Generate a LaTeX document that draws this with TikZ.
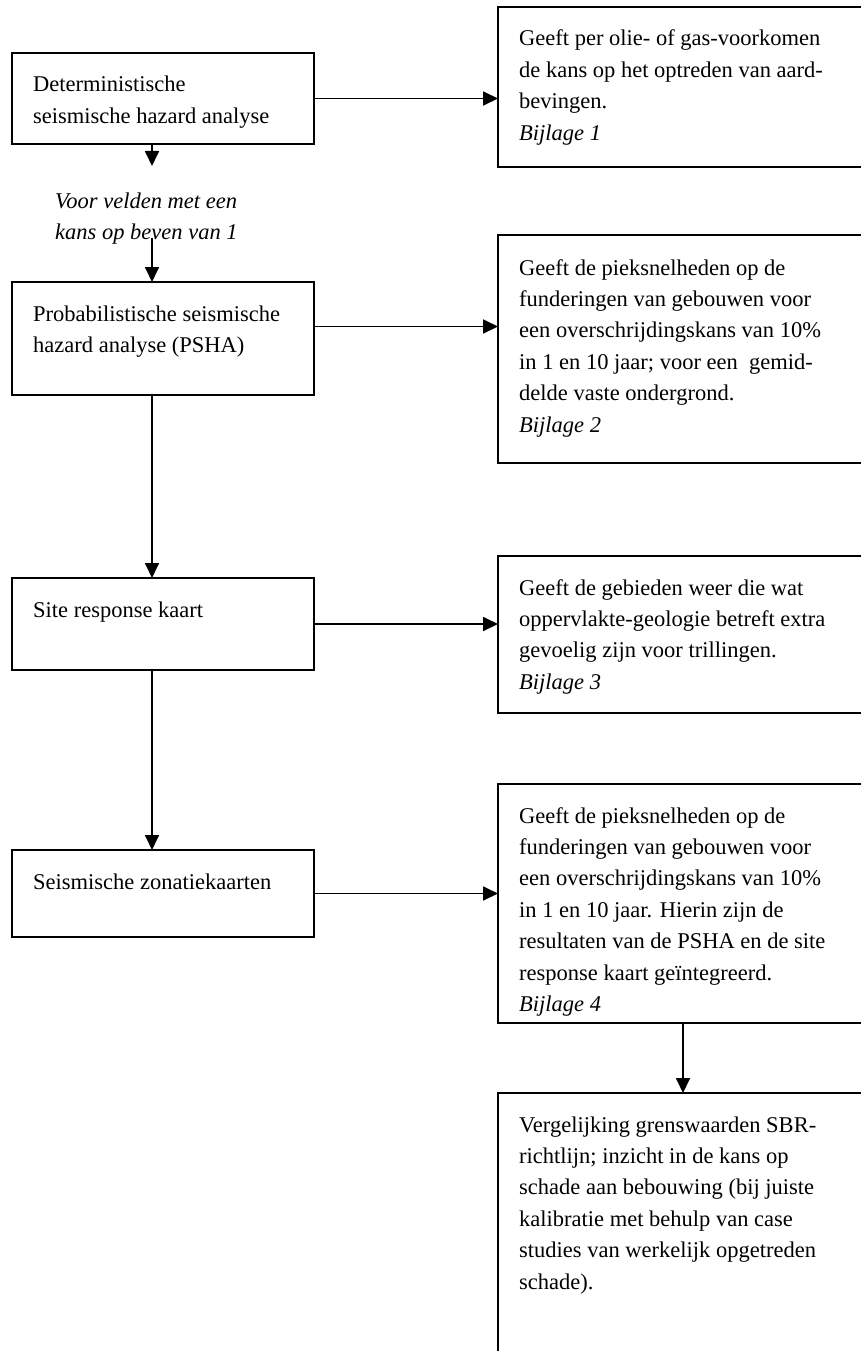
\documentclass[tikz,border=0pt]{standalone}
\usepackage{fontspec}
\setmainfont{Liberation Serif}
\usetikzlibrary{arrows.meta}
\newcommand{\blk}[1]{\parbox[t]{340pt}{\raggedright #1}}
\begin{document}
\begin{tikzpicture}[x=1pt,y=-1pt,
  box/.style={draw, line width=1.8pt, rectangle, inner sep=0pt, outer sep=0pt, anchor=north west},
  txt/.style={anchor=base west, inner sep=0pt, font=\fontsize{22.5}{31.4}\selectfont},
  lbl/.style={anchor=base west, inner sep=0pt, font=\fontsize{22.5}{31.3}\selectfont\itshape},
  arr/.style={line width=1.8pt, -{Triangle[length=15pt,width=14pt]}}]
\useasboundingbox (0,0) rectangle (861,1351);
\clip (0,0) rectangle (861,1351);

% left boxes
\node[box, minimum width=302pt, minimum height=91pt]  (L1) at (12,53)  {};
\node[box, minimum width=302pt, minimum height=113pt] (L2) at (12,282) {};
\node[box, minimum width=302pt, minimum height=92pt]  (L3) at (12,578) {};
\node[box, minimum width=302pt, minimum height=87pt]  (L4) at (12,850) {};

% right boxes (run past the right edge)
\node[box, minimum width=420pt, minimum height=160pt] (R1) at (498,7)    {};
\node[box, minimum width=420pt, minimum height=228pt] (R2) at (498,235)  {};
\node[box, minimum width=420pt, minimum height=157pt] (R3) at (498,556)  {};
\node[box, minimum width=420pt, minimum height=239pt] (R4) at (498,784)  {};
\node[box, minimum width=420pt, minimum height=400pt] (R5) at (498,1093) {};

% left texts
\node[txt] (tL1) at (33,92)  {\blk{Deterministische\\seismische hazard analyse}};
\node[txt] (tL2) at (33,321) {\blk{Probabilistische seismische\\hazard analyse (PSHA)}};
\node[txt] (tL3) at (33,617) {\blk{Site response kaart}};
\node[txt] (tL4) at (33,889) {\blk{Seismische zonatiekaarten}};

% right texts
\node[txt] (tR1) at (519,46) {\blk{Geeft per olie- of gas-voorkomen\\de kans op het optreden van aard-\\bevingen.\\\textit{Bijlage 1}}};
\node[txt] (tR2) at (519,275) {\blk{Geeft de pieksnelheden op de\\funderingen van gebouwen voor\\een overschrijdingskans van 10\%\\in 1 en 10 jaar; voor een\ \ gemid-\\delde vaste ondergrond.\\\textit{Bijlage 2}}};
\node[txt] (tR3) at (519,595) {\blk{Geeft de gebieden weer die wat\\oppervlakte-geologie betreft extra\\gevoelig zijn voor trillingen.\\\textit{Bijlage 3}}};
\node[txt] (tR4) at (519,823) {\blk{Geeft de pieksnelheden op de\\funderingen van gebouwen voor\\een overschrijdingskans van 10\%\\in 1 en 10 jaar. Hierin zijn de\\resultaten van de PSHA en de site\\response kaart geïntegreerd.\\\textit{Bijlage 4}}};
\node[txt] (tR5) at (519,1132) {\blk{Vergelijking grenswaarden SBR-\\richtlijn; inzicht in de kans op\\schade aan bebouwing (bij juiste\\kalibratie met behulp van case\\studies van werkelijk opgetreden\\schade).}};

% italic condition label
\node[lbl] (lab) at (55,208) {\blk{Voor velden met een\\kans op beven van 1}};

% connector ends
\coordinate (t1) at (152,166);
\coordinate (s2) at (152,238);
\coordinate (x5) at (683,1000);

% vertical arrows
\draw[arr] (L1.south -| t1) -- (t1);
\draw[arr] (s2) -- (L2.north -| s2);
\draw[arr] (L2.south -| s2) -- (L3.north -| s2);
\draw[arr] (L3.south -| s2) -- (L4.north -| s2);
\draw[arr] (R4.south -| x5) -- (R5.north -| x5);

% horizontal arrows
\draw[arr] (L1.east) -- (L1.east -| R1.west);
\draw[arr] ([yshift=12pt]L2.east) -- ([yshift=12pt]L2.east -| R2.west);
\draw[arr] (L3.east) -- (L3.east -| R3.west);
\draw[arr] (L4.east) -- (L4.east -| R4.west);
\end{tikzpicture}
\end{document}
